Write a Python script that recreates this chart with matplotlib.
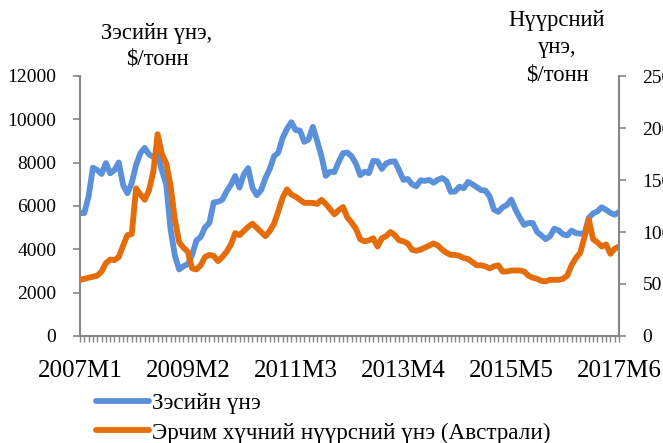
import matplotlib
matplotlib.use('Agg')
import matplotlib.pyplot as plt
import numpy as np

plt.rcParams['font.family'] = ['Liberation Serif', 'DejaVu Serif']

# monthly, 2007M1 .. 2017M6
copper = [5669, 5676, 6452, 7767, 7660, 7479, 7980, 7510, 7660, 8006, 6963, 6588,
          7061, 7888, 8439, 8685, 8382, 8260, 8414, 7634, 6990, 4926, 3717, 3072,
          3220, 3315, 3743, 4407, 4569, 5014, 5216, 6165, 6196, 6288, 6676, 6982,
          7386, 6849, 7463, 7745, 6838, 6499, 6735, 7284, 7709, 8292, 8470, 9147,
          9556, 9868, 9504, 9483, 8959, 9067, 9651, 9001, 8300, 7394, 7581, 7565,
          8041, 8441, 8470, 8289, 7955, 7423, 7584, 7515, 8088, 8062, 7711, 7967,
          8047, 8061, 7646, 7204, 7248, 7000, 6907, 7186, 7159, 7203, 7071, 7215,
          7291, 7149, 6650, 6674, 6891, 6821, 7113, 7002, 6872, 6737, 6713, 6446,
          5831, 5729, 5940, 6042, 6295, 5833, 5457, 5127, 5217, 5216, 4800, 4639,
          4472, 4599, 4954, 4873, 4695, 4642, 4864, 4750, 4723, 4731, 5451, 5660,
          5755, 5941, 5825, 5684, 5600, 5720]

coal = [54, 55, 56, 57, 58, 62, 70, 73.5, 73, 76, 87, 97,
        98, 142, 136, 131, 140, 158, 194, 175, 166, 145, 112, 90,
        85, 81, 65, 64, 68, 76, 78, 77, 72, 76, 81, 88,
        99, 97, 101, 105, 108, 104, 100, 96, 101, 108, 120, 133,
        141, 136, 134, 131, 128, 128, 128, 127, 131, 127, 122, 117,
        121, 124, 114, 109, 103, 93, 91, 92, 94, 86, 94, 96,
        100, 97, 92, 91, 89, 83, 82, 83, 85, 87, 89, 87,
        83, 80, 78, 78, 77, 75, 74, 71, 68, 68, 67, 65,
        67, 68, 62, 62, 63, 63, 63, 62, 58, 56, 55, 53,
        52.5, 54, 54, 54, 55, 58, 68, 75, 80, 95, 112, 93,
        90, 86, 88, 79, 84, 86]

tick_pos = [0, 25, 50, 75, 100, 125]
tick_labels = ['2007M1', '2009M2', '2011M3', '2013M4', '2015M5', '2017M6']

blue = '#5A91DA'
orange = '#E46C0A'
grey = '#868686'

fig = plt.figure(figsize=(6.63, 4.43), dpi=100)
ax = fig.add_axes([80/663, 1-336/443, 539/663, 260/443])
x = np.arange(len(copper))
l1, = ax.plot(x, copper, color=blue, lw=4.2, solid_capstyle='round', solid_joinstyle='round',
              label='Зэсийн үнэ')
ax2 = ax.twinx()
l2, = ax2.plot(x, coal, color=orange, lw=4.2, solid_capstyle='round', solid_joinstyle='round',
               label='Эрчим хүчний нүүрсний үнэ (Австрали)')

ax.set_xlim(0, 125)
ax.set_ylim(0, 12000)
ax2.set_ylim(0, 250)
ax.set_yticks(range(0, 12001, 2000))
ax2.set_yticks(range(0, 251, 50))
ax.set_xticks(tick_pos, tick_labels, fontsize=18)
ax.set_xticks(x, minor=True)

for a in (ax, ax2):
    a.spines['top'].set_visible(False)
    for s in a.spines.values():
        s.set_color(grey)
        s.set_linewidth(1.5)
ax.spines['right'].set_visible(False)
ax2.spines['left'].set_visible(False)
ax2.spines['bottom'].set_visible(False)

ax.tick_params(axis='y', direction='out', length=5, width=1.2, color=grey, labelsize=14, pad=12)
ax2.tick_params(axis='y', direction='out', length=5, width=1.2, color=grey, labelsize=14, pad=12)
ax.tick_params(axis='x', which='both', direction='out', length=4, width=1, color=grey, pad=13)

fig.text(157/663, 1-46/443, 'Зэсийн үнэ,\n\\$/тонн', ha='center', va='center',
         fontsize=16.3, linespacing=1.3)
fig.text(557/663, 1-48/443, 'Нүүрсний\nүнэ,\n\\$/тонн', ha='center', va='center',
         fontsize=16.3, linespacing=1.4)

fig.legend([l1, l2], [l1.get_label(), l2.get_label()], loc='upper left',
           bbox_to_anchor=(96/663, 1-393/443), frameon=False, fontsize=16.7,
           handlelength=2.3, handletextpad=0.1, labelspacing=0.35,
           borderpad=0, borderaxespad=0)

fig.savefig('out.png', dpi=100)
